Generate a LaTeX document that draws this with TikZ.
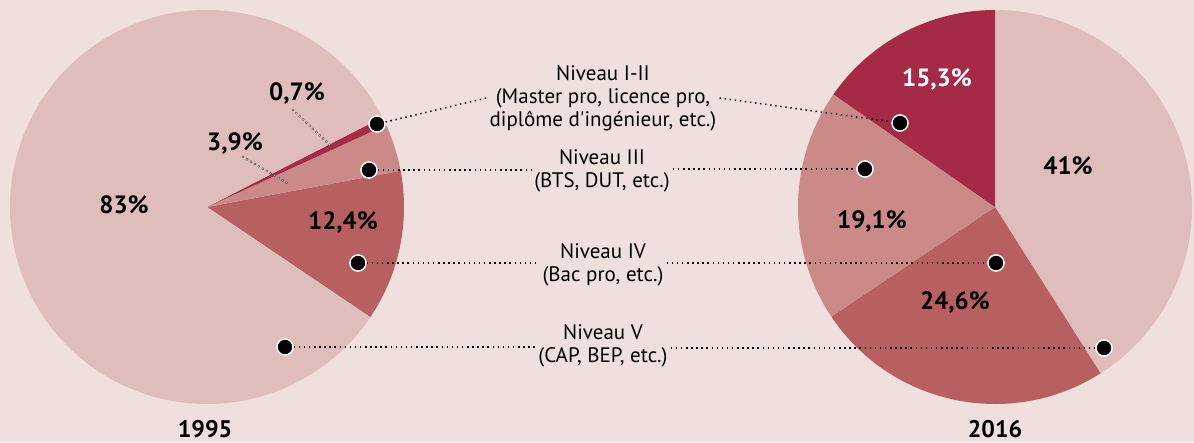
\documentclass[tikz,border=0pt]{standalone}
\usepackage{fontspec}
\setmainfont{PT Sans}[Ligatures=TeXOff]
\definecolor{bg}{HTML}{EFE0DE}
\definecolor{cV}{HTML}{DFBDBB}
\definecolor{cIII}{HTML}{CB8A88}
\definecolor{cIV}{HTML}{B85F62}
\definecolor{cI}{HTML}{A52A46}
\tikzset{
  dot/.style={circle, fill=black, draw=white, line width=1.3pt, minimum size=16pt, inner sep=0pt},
  conn/.style={line width=1.5pt, dash pattern=on 1.5pt off 3.6pt, black},
  lvl/.style={align=center, font=\fontsize{21}{23}\selectfont, inner sep=3pt},
  pct/.style={font=\fontsize{25}{28}\selectfont\bfseries},
  yr/.style={font=\fontsize{24}{26}\selectfont\bfseries},
  ringA/.style={line width=2.8pt, dash pattern=on 0pt off 4.6pt, line cap=round, draw=black!70},
  ringB/.style={line width=1.2pt, dash pattern=on 0pt off 4.6pt, line cap=round, draw=white},
}
\begin{document}
\begin{tikzpicture}[x=1pt,y=1pt]
\useasboundingbox (0,0) rectangle (1194,442);
\fill[bg] (0,0) rectangle (1194,442);
% left pie
\coordinate (L) at (207,235);
\fill[cIV] (L) -- ++(-34:197pt) arc[start angle=-34, end angle=10.6, radius=197pt] -- cycle;
\fill[cIII] (L) -- ++(10.6:197pt) arc[start angle=10.6, end angle=24.6, radius=197pt] -- cycle;
\fill[cI] (L) -- ++(24.6:197pt) arc[start angle=24.6, end angle=27.1, radius=197pt] -- cycle;
\fill[cV] (L) -- ++(27.1:197pt) arc[start angle=27.1, end angle=326, radius=197pt] -- cycle;
% right pie
\coordinate (R) at (995,235);
\fill[cV] (R) -- ++(-57.6:197pt) arc[start angle=-57.6, end angle=90, radius=197pt] -- cycle;
\fill[cIV] (R) -- ++(-146.2:197pt) arc[start angle=-146.2, end angle=-57.6, radius=197pt] -- cycle;
\fill[cIII] (R) -- ++(145.1:197pt) arc[start angle=145.1, end angle=213.8, radius=197pt] -- cycle;
\fill[cI] (R) -- ++(90:197pt) arc[start angle=90, end angle=145.1, radius=197pt] -- cycle;
% percentages
\node[pct] (p83) at (124,237) {83\%};
\node[pct] (p07) at (297,349) {0,7\%};
\node[pct] (p39) at (235,299) {3,9\%};
\node[pct] (p124) at (343,220) {12,4\%};
\node[pct, white] (p153) at (937,363) {15,3\%};
\node[pct] (p41) at (1068,276) {41\%};
\node[pct] (p191) at (872,221) {19,1\%};
\node[pct] (p246) at (955,140) {24,6\%};
% small leaders
\coordinate (e07) at (330,297);
\coordinate (s07) at (293,332);
\coordinate (e39) at (287,259);
\coordinate (s39) at (243,285);
\draw[ringA] (s07) -- (e07);
\draw[ringB] (s07) -- (e07);
\draw[ringA] (s39) -- (e39);
\draw[ringB] (s39) -- (e39);
% level texts
\node[lvl] (n1) at (603,344) {Niveau I-II\\(Master pro, licence pro,\\diplôme d'ingénieur, etc.)};
\node[lvl] (n3) at (602,271) {Niveau III\\(BTS, DUT, etc.)};
\node[lvl] (n4) at (603,177) {Niveau IV\\(Bac pro, etc.)};
\node[lvl] (n5) at (603,96) {Niveau V\\(CAP, BEP, etc.)};
% dots
\node[dot] (d1L) at (377,318) {};
\node[dot] (d3L) at (369,272) {};
\node[dot] (d4L) at (358,179) {};
\node[dot] (d5L) at (285,95) {};
\node[dot] (d1R) at (900,319) {};
\node[dot] (d3R) at (865,273) {};
\node[dot] (d4R) at (996,179) {};
\node[dot] (d5R) at (1104,94) {};
% connectors
\draw[conn] (d1L) -- (n1.west);
\draw[conn] (n1.east) -- (d1R);
\draw[conn] (d3L) -- (d3L -| n3.west);
\draw[conn] (d3R -| n3.east) -- (d3R);
\draw[conn] (d4L) -- (d4L -| n4.west);
\draw[conn] (d4R -| n4.east) -- (d4R);
\draw[conn] (d5L) -- (d5L -| n5.west);
\draw[conn] (d5R -| n5.east) -- (d5R);
% redraw dots on top of the connectors
\foreach \p in {d1L,d3L,d4L,d5L,d1R,d3R,d4R,d5R}{
  \node[dot] at (\p) {};
}
% years
\node[yr] (y1) at (205,13) {1995};
\node[yr] (y2) at (995,13) {2016};
\end{tikzpicture}
\end{document}
